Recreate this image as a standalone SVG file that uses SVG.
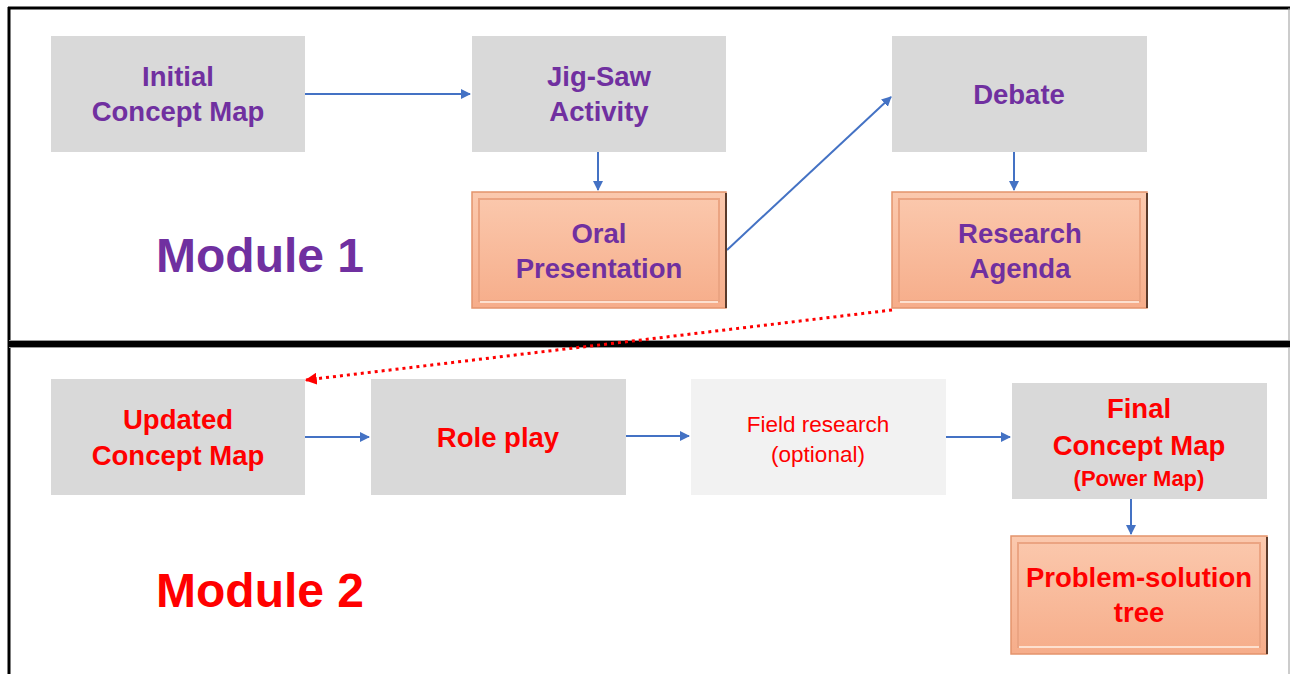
<svg xmlns="http://www.w3.org/2000/svg" width="1290" height="674" viewBox="0 0 1290 674">
<defs>
<linearGradient id="og" x1="0" y1="0" x2="0" y2="1">
<stop offset="0" stop-color="#fbc9ae"/>
<stop offset="1" stop-color="#f6ad8a"/>
</linearGradient>
<marker id="ab" viewBox="0 0 10 10" refX="9" refY="5" markerWidth="5" markerHeight="5" orient="auto" markerUnits="strokeWidth">
<path d="M0,0 L10,5 L0,10 z" fill="#4472c4"/>
</marker>
<marker id="ar" viewBox="0 0 10 10" refX="9" refY="5" markerWidth="4" markerHeight="4" orient="auto" markerUnits="strokeWidth">
<path d="M0,0 L10,5 L0,10 z" fill="#ff0000"/>
</marker>
</defs>
<style>
.g{fill:#d9d9d9}
.lg{fill:#f2f2f2}
.o{fill:url(#og);stroke:#e4946c;stroke-width:1.5}
.oi{fill:none;stroke:#eba482;stroke-width:2}
.hl{stroke:#fde0cf;stroke-width:2}
.sh{stroke:#5a3a2a;stroke-width:2}
.t{font-family:"Liberation Sans",Arial,sans-serif;font-weight:bold;font-size:27.5px;text-anchor:middle}
.p{fill:#7030a0}
.r{fill:#ff0000}
.n{font-family:"Liberation Sans",Arial,sans-serif;font-size:22.5px;text-anchor:middle;fill:#ff0000}
.sm{font-size:22px}
.big{font-family:"Liberation Sans",Arial,sans-serif;font-weight:bold;font-size:48px}
.c{stroke:#4472c4;stroke-width:2;fill:none;marker-end:url(#ab)}
.d{stroke:#ff0000;stroke-width:3;stroke-dasharray:3 4;fill:none;marker-end:url(#ar)}
</style>
<rect width="1290" height="674" fill="#ffffff"/>
<g id="frame">
<line x1="8" y1="8" x2="1290" y2="8" stroke="#000" stroke-width="3"/>
<line x1="9" y1="7" x2="9" y2="674" stroke="#000" stroke-width="3"/>
<line x1="1289" y1="8" x2="1289" y2="674" stroke="#999" stroke-width="1"/>
<rect x="9" y="340" width="1281" height="8" fill="#999"/>
<rect x="9" y="341" width="1281" height="6" fill="#000"/>
</g>
<g id="connectors">
<line class="c" x1="305" y1="94" x2="470" y2="94"/>
<line class="c" x1="598" y1="152" x2="598" y2="190"/>
<line class="c" x1="727" y1="250" x2="891" y2="97"/>
<line class="c" x1="1014" y1="152" x2="1014" y2="190"/>
<line class="d" x1="892" y1="310" x2="306" y2="380"/>
<line class="c" x1="305" y1="437" x2="369" y2="437"/>
<line class="c" x1="626" y1="436" x2="689" y2="436"/>
<line class="c" x1="946" y1="437" x2="1010" y2="437"/>
<line class="c" x1="1131" y1="499" x2="1131" y2="534"/>
</g>
<g id="n-initial">
<rect class="g" x="51" y="36" width="254" height="116"/>
<text class="t p" x="178" y="86">Initial</text>
<text class="t p" x="178" y="121">Concept Map</text>
</g>
<g id="n-jigsaw">
<rect class="g" x="472" y="36" width="254" height="116"/>
<text class="t p" x="599" y="86">Jig-Saw</text>
<text class="t p" x="599" y="121">Activity</text>
</g>
<g id="n-debate">
<rect class="g" x="892" y="36" width="255" height="116"/>
<text class="t p" x="1019" y="104">Debate</text>
</g>
<g id="n-oral">
<rect class="o" x="472" y="192" width="254" height="116"/>
<rect class="oi" x="479" y="199" width="240" height="102"/>
<line class="hl" x1="480" y1="302" x2="718" y2="302"/>
<line class="sh" x1="726" y1="193" x2="726" y2="308"/>
<text class="t p" x="599" y="243">Oral</text>
<text class="t p" x="599" y="278">Presentation</text>
</g>
<g id="n-research">
<rect class="o" x="892" y="192" width="255" height="116"/>
<rect class="oi" x="899" y="199" width="241" height="102"/>
<line class="hl" x1="900" y1="302" x2="1139" y2="302"/>
<line class="sh" x1="1147" y1="193" x2="1147" y2="308"/>
<text class="t p" x="1020" y="243">Research</text>
<text class="t p" x="1020" y="278">Agenda</text>
</g>
<text id="module1" class="big p" x="156" y="272">Module 1</text>
<g id="n-updated">
<rect class="g" x="51" y="379" width="254" height="116"/>
<text class="t r" x="178" y="429">Updated</text>
<text class="t r" x="178" y="465">Concept Map</text>
</g>
<g id="n-roleplay">
<rect class="g" x="371" y="379" width="255" height="116"/>
<text class="t r" x="498" y="447">Role play</text>
</g>
<g id="n-field">
<rect class="lg" x="691" y="379" width="255" height="116"/>
<text class="n" x="818" y="432">Field research</text>
<text class="n" x="818" y="462">(optional)</text>
</g>
<g id="n-final">
<rect class="g" x="1012" y="383" width="255" height="116"/>
<text class="t r" x="1139" y="418">Final</text>
<text class="t r" x="1139" y="455">Concept Map</text>
<text class="t r sm" x="1139" y="486">(Power Map)</text>
</g>
<g id="n-problem">
<rect class="o" x="1011" y="536" width="256" height="118"/>
<rect class="oi" x="1018" y="543" width="242" height="104"/>
<line class="hl" x1="1019" y1="647" x2="1259" y2="647"/>
<line class="sh" x1="1267" y1="537" x2="1267" y2="654"/>
<text class="t r" x="1139" y="587">Problem-solution</text>
<text class="t r" x="1139" y="622">tree</text>
</g>
<text id="module2" class="big r" x="156" y="607">Module 2</text>
</svg>
